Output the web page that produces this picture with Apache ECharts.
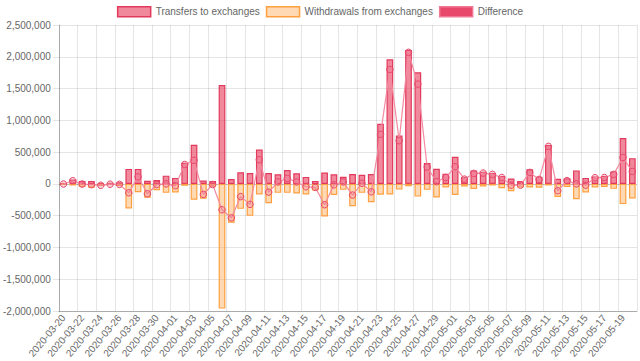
<!DOCTYPE html>
<html>
<head>
<meta charset="utf-8">
<script src="https://cdn.jsdelivr.net/npm/echarts@6/dist/echarts.min.js"></script>
<style>
html,body{margin:0;padding:0;background:#fff;}
#chart{width:640px;height:361px;}
</style>
</head>
<body>
<div id="chart"></div>
<script>
const dates = [
"2020-03-20","2020-03-21","2020-03-22","2020-03-23","2020-03-24","2020-03-25","2020-03-26","2020-03-27","2020-03-28","2020-03-29","2020-03-30","2020-03-31",
"2020-04-01","2020-04-02","2020-04-03","2020-04-04","2020-04-05","2020-04-06","2020-04-07","2020-04-08","2020-04-09","2020-04-10",
"2020-04-11","2020-04-12","2020-04-13","2020-04-14","2020-04-15","2020-04-16","2020-04-17","2020-04-18","2020-04-19","2020-04-20",
"2020-04-21","2020-04-22","2020-04-23","2020-04-24","2020-04-25","2020-04-26","2020-04-27","2020-04-28","2020-04-29","2020-04-30",
"2020-05-01","2020-05-02","2020-05-03","2020-05-04","2020-05-05","2020-05-06","2020-05-07","2020-05-08","2020-05-09","2020-05-10",
"2020-05-11","2020-05-12","2020-05-13","2020-05-14","2020-05-15","2020-05-16","2020-05-17","2020-05-18","2020-05-19","2020-05-20"
];
const transfers = [
8000,70000,47000,47000,10000,15000,25000,236000,236000,50000,60000,130000,
94000,333000,614000,52000,45000,1557000,75000,184000,172000,540000,
170000,152000,218000,168000,110000,47000,178000,150000,113000,155000,
142000,155000,945000,1960000,760000,2108000,1757000,330000,238000,160000,
428000,107000,212000,192000,173000,126000,84000,47000,230000,112000,
610000,79000,88000,212000,94000,118000,123000,194000,723000,405000
];
const withdrawals = [
-10000,-25000,-50000,-60000,-35000,-20000,-35000,-388000,-130000,-220000,-100000,-141000,
-136000,-30000,-250000,-235000,-50000,-1962000,-610000,-393000,-503000,-165000,
-305000,-141000,-141000,-150000,-165000,-105000,-514000,-173000,-94000,-350000,
-141000,-290000,-170000,-168000,-90000,-37000,-200000,-94000,-215000,-55000,
-173000,-42000,-80000,-42000,-26000,-68000,-115000,-58000,-55000,-60000,
-25000,-205000,-50000,-241000,-136000,-55000,-47000,-78000,-318000,-230000
];
const difference = [
-2000,50000,-3000,-12000,-22000,-5000,-8000,-140000,111000,-155000,-10000,0,
-30000,305000,370000,-165000,-10000,-408000,-535000,-200000,-322000,380000,
-130000,30000,87000,30000,-45000,-55000,-328000,-15000,31000,-176000,
10000,-125000,780000,1800000,680000,2070000,1570000,265000,35000,100000,
270000,75000,165000,170000,150000,100000,-20000,-20000,180000,70000,
590000,-108000,52000,0,-20000,97000,100000,150000,415000,195000
];
const yMin = -2000000, yMax = 2500000, yStep = 500000;
const seriesNames = ["Transfers to exchanges","Withdrawals from exchanges","Difference"];

const FONT = "'Liberation Sans', Arial, Helvetica, sans-serif";
const grid = 'rgba(0,0,0,0.1)';
const splitColors = [];
for (let v = yMin; v <= yMax; v += yStep) splitColors.push(v === 0 ? 'rgba(0,0,0,0.25)' : grid);

const chart = echarts.init(document.getElementById('chart'), null, {renderer: 'svg'});
chart.setOption({
  animation: false,
  textStyle: {fontFamily: FONT},
  legend: {
    top: 6, left: 'center', padding: 0, itemWidth: 33, itemHeight: 10, itemGap: 6,
    textStyle: {fontSize: 10, color: '#666', fontFamily: FONT},
    data: [
      {name: seriesNames[0], icon: 'rect', itemStyle: {color: 'rgba(232,58,92,0.6)', borderColor: '#e23a5c', borderWidth: 1.5}},
      {name: seriesNames[1], icon: 'rect', itemStyle: {color: 'rgba(255,159,64,0.4)', borderColor: '#ffa040', borderWidth: 1.5}},
      {name: seriesNames[2], icon: 'rect', itemStyle: {color: '#e8486a', borderColor: '#f07a93', borderWidth: 1.5}}
    ]
  },
  grid: {left: 58, right: 3, top: 25, bottom: 50},
  xAxis: {
    type: 'category', data: dates, boundaryGap: true,
    axisLine: {show: true, onZero: false, lineStyle: {color: 'rgba(0,0,0,0.25)'}},
    axisTick: {show: false},
    splitLine: {show: true, interval: 1, lineStyle: {color: grid}},
    axisLabel: {interval: 1, rotate: 50, fontSize: 10, color: '#666', margin: 5, fontFamily: FONT}
  },
  yAxis: {
    type: 'value', min: yMin, max: yMax, interval: yStep,
    axisLine: {show: true, lineStyle: {color: 'rgba(0,0,0,0.25)'}},
    axisTick: {show: true, length: 6, lineStyle: {color: grid}},
    axisLabel: {fontSize: 10, color: '#666', margin: 8, fontFamily: FONT,
      formatter: v => v.toLocaleString('en-US')},
    splitLine: {show: true, lineStyle: {color: splitColors}}
  },
  series: [
    {name: seriesNames[0], type: 'bar', data: transfers, barWidth: '72%', barGap: '-100%',
     itemStyle: {color: 'rgba(232,58,92,0.6)', borderColor: '#e23a5c', borderWidth: 1.2}},
    {name: seriesNames[1], type: 'bar', data: withdrawals, barWidth: '72%', barGap: '-100%',
     itemStyle: {color: 'rgba(255,159,64,0.4)', borderColor: '#ffa040', borderWidth: 1.2}},
    {name: seriesNames[2], type: 'line', data: difference, smooth: false,
     symbol: 'circle', symbolSize: 6.5, showAllSymbol: true,
     lineStyle: {color: '#f38aa0', width: 1.2},
     itemStyle: {color: 'rgba(240,120,145,0.3)', borderColor: '#e8486a', borderWidth: 1}}
  ]
});
</script>
</body>
</html>
